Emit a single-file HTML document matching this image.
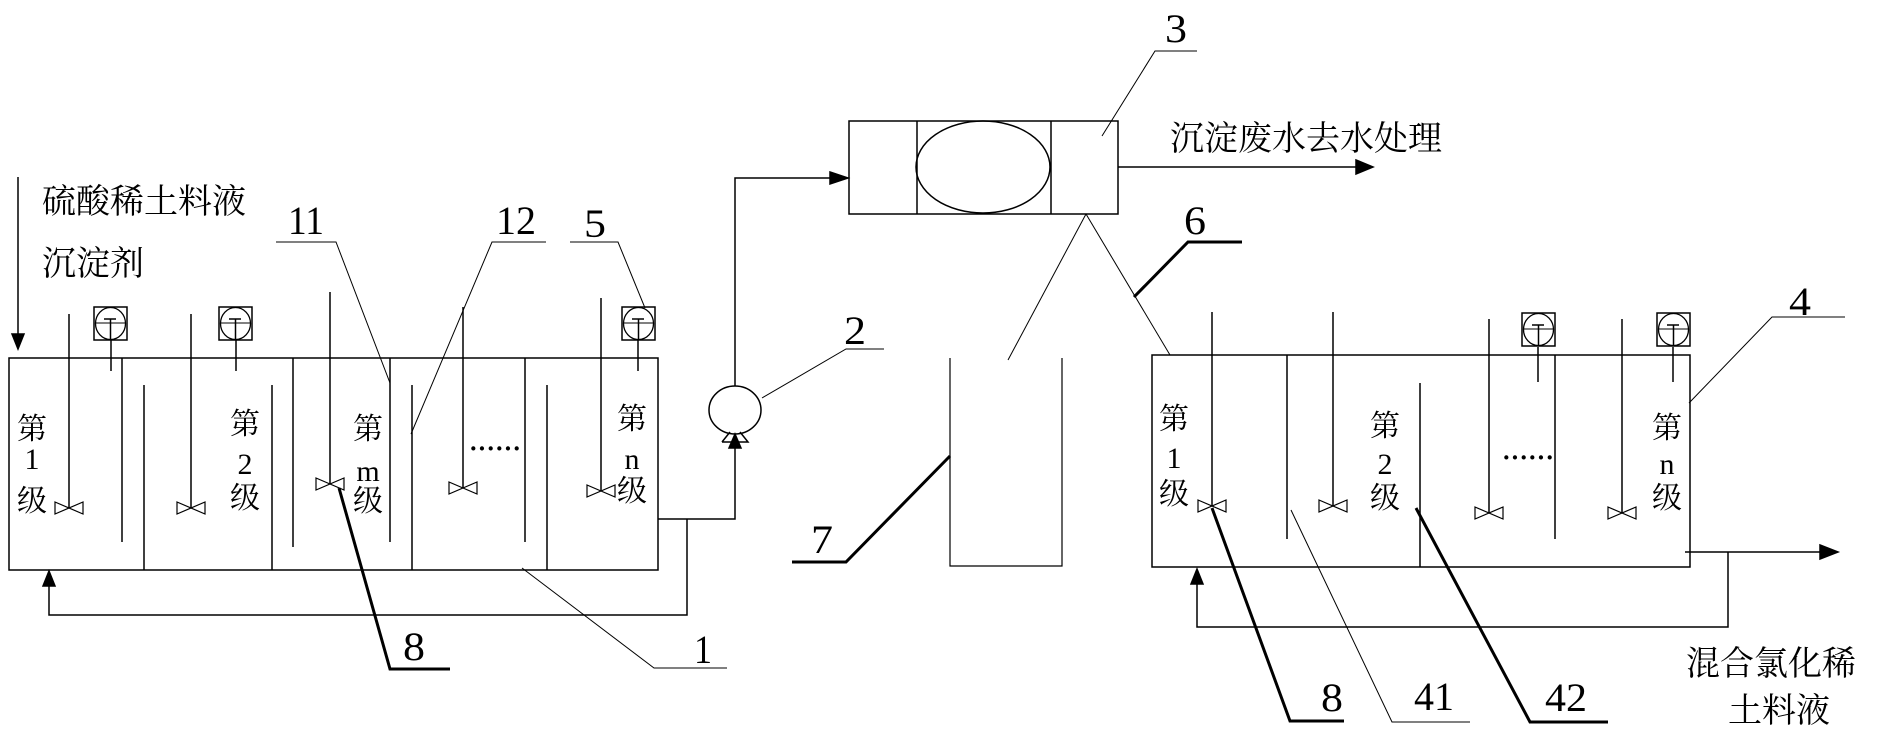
<!DOCTYPE html>
<html><head><meta charset="utf-8"><style>
html,body{margin:0;padding:0;background:#fff;}
svg{display:block}
text{font-family:"Liberation Serif","Noto Serif CJK SC",serif;fill:#000}
</style></head><body>
<svg width="1882" height="734" viewBox="0 0 1882 734" xmlns="http://www.w3.org/2000/svg">
<defs>
<g id="imp"><path d="M-14,-6 L14,6 L14,-6 L-14,6 Z" fill="none" stroke="#000" stroke-width="1.2"/></g>
<g id="mot"><rect x="0" y="0" width="33" height="33" fill="none" stroke="#000" stroke-width="1.5"/><ellipse cx="16.5" cy="16.5" rx="15" ry="16" fill="none" stroke="#000" stroke-width="1.3"/><line x1="2" y1="16" x2="31" y2="16" stroke="#000" stroke-width="1"/><line x1="10" y1="12" x2="22" y2="12" stroke="#000" stroke-width="1.5"/><line x1="16.5" y1="12" x2="16.5" y2="33" stroke="#000" stroke-width="1.5"/></g>
</defs>
<g stroke="#000" fill="none" stroke-width="1.5">
<rect x="9" y="358" width="649" height="212"/>
<line x1="18" y1="177" x2="18" y2="336"/>
<path d="M12,334 L24,334 L18,349 Z" fill="#000"/>
<line x1="69" y1="314" x2="69" y2="508"/>
<line x1="191" y1="314" x2="191" y2="508"/>
<line x1="330" y1="292" x2="330" y2="484"/>
<line x1="463" y1="307" x2="463" y2="488"/>
<line x1="601" y1="298" x2="601" y2="491"/>
<line x1="111" y1="339" x2="111" y2="371"/>
<line x1="236" y1="339" x2="236" y2="371"/>
<line x1="638" y1="339" x2="638" y2="371"/>
<line x1="122" y1="358" x2="122" y2="542"/>
<line x1="293" y1="358" x2="293" y2="547"/>
<line x1="390" y1="358" x2="390" y2="542"/>
<line x1="525" y1="358" x2="525" y2="542"/>
<line x1="144" y1="385" x2="144" y2="570"/>
<line x1="272" y1="385" x2="272" y2="570"/>
<line x1="412" y1="385" x2="412" y2="570"/>
<line x1="547" y1="385" x2="547" y2="570"/>
<polyline points="658,519 735,519 735,446"/>
<path d="M729,448 L741,448 L735,434 Z" fill="#000"/>
<polyline points="687,519 687,615 49,615 49,584"/>
<path d="M43,586 L55,586 L49,571 Z" fill="#000"/>
<ellipse cx="735" cy="410" rx="26" ry="24"/>
<path d="M722,442 L748,442 L740,432 M722,442 L730,432"/>
<polyline points="735,386 735,178 832,178"/>
<path d="M830,172 L848,178 L830,184 Z" fill="#000"/>
<rect x="849" y="121" width="269" height="93"/>
<line x1="917" y1="121" x2="917" y2="214"/>
<line x1="1051" y1="121" x2="1051" y2="214"/>
<ellipse cx="983" cy="167" rx="67" ry="46"/>
<line x1="1118" y1="167" x2="1358" y2="167"/>
<path d="M1356,160 L1373,167 L1356,174 Z" fill="#000"/>
<line x1="1086" y1="214" x2="1008" y2="360" stroke-width="1"/>
<line x1="1086" y1="214" x2="1170" y2="355" stroke-width="1"/>
<polyline points="950,358 950,566 1062,566 1062,358" stroke-width="1.2"/>
<rect x="1152" y="355" width="538" height="212"/>
<line x1="1212" y1="312" x2="1212" y2="506"/>
<line x1="1333" y1="312" x2="1333" y2="506"/>
<line x1="1489" y1="319" x2="1489" y2="513"/>
<line x1="1622" y1="319" x2="1622" y2="513"/>
<line x1="1538" y1="347" x2="1538" y2="382"/>
<line x1="1673" y1="347" x2="1673" y2="382"/>
<line x1="1287" y1="355" x2="1287" y2="539"/>
<line x1="1555" y1="355" x2="1555" y2="539"/>
<line x1="1420" y1="383" x2="1420" y2="567"/>
<line x1="1685" y1="552" x2="1822" y2="552"/>
<path d="M1820,545 L1838,552 L1820,559 Z" fill="#000"/>
<polyline points="1728,552 1728,627 1197,627 1197,582"/>
<path d="M1191,584 L1203,584 L1197,569 Z" fill="#000"/>
</g>
<use href="#imp" x="69" y="508"/><use href="#imp" x="191" y="508"/><use href="#imp" x="330" y="484"/><use href="#imp" x="463" y="488"/><use href="#imp" x="601" y="491"/>
<use href="#imp" x="1212" y="506"/><use href="#imp" x="1333" y="506"/><use href="#imp" x="1489" y="513"/><use href="#imp" x="1622" y="513"/>
<use href="#mot" x="94" y="307"/><use href="#mot" x="219" y="307"/><use href="#mot" x="622" y="307"/>
<use href="#mot" x="1522" y="313"/><use href="#mot" x="1657" y="313"/>
<g stroke="#000" fill="none" stroke-width="1">
<polyline points="522,568 654,668 727,668"/>
<polyline points="1102,136 1155,51 1197,51"/>
<polyline points="762,398 846,349 884,349"/>
<polyline points="390,383 336,242 276,242"/>
<polyline points="411,434 492,242 546,242"/>
<polyline points="645,308 618,242 570,242"/>
<polyline points="1689,403 1772,317 1845,317"/>
<polyline points="1291,510 1392,722 1470,722"/>
</g>
<g stroke="#000" fill="none" stroke-width="3">
<polyline points="339,488 390,669 450,669"/>
<polyline points="1134,297 1188,242 1242,242"/>
<polyline points="950,456 846,562 792,562"/>
<polyline points="1212,508 1290,721 1344,721"/>
<polyline points="1416,508 1530,722 1608,722"/>
</g>
<g font-size="40" text-anchor="middle" font-stretch="condensed">
<text x="1176" y="42" textLength="22" lengthAdjust="spacingAndGlyphs">3</text>
<text x="855" y="344" textLength="22" lengthAdjust="spacingAndGlyphs">2</text>
<text x="703" y="663" textLength="18" lengthAdjust="spacingAndGlyphs">1</text>
<text x="306" y="234" textLength="36" lengthAdjust="spacingAndGlyphs">11</text>
<text x="516" y="234" textLength="40" lengthAdjust="spacingAndGlyphs">12</text>
<text x="595" y="237" textLength="22" lengthAdjust="spacingAndGlyphs">5</text>
<text x="1195" y="234" textLength="22" lengthAdjust="spacingAndGlyphs">6</text>
<text x="822" y="553" textLength="22" lengthAdjust="spacingAndGlyphs">7</text>
<text x="414" y="660" textLength="22" lengthAdjust="spacingAndGlyphs">8</text>
<text x="1800" y="315" textLength="22" lengthAdjust="spacingAndGlyphs">4</text>
<text x="1332" y="711" textLength="22" lengthAdjust="spacingAndGlyphs">8</text>
<text x="1434" y="710" textLength="40" lengthAdjust="spacingAndGlyphs">41</text>
<text x="1566" y="711" textLength="42" lengthAdjust="spacingAndGlyphs">42</text>
</g>
<g font-size="34">
<text x="42" y="213">硫酸稀土料液</text>
<text x="42" y="275">沉淀剂</text>
<text x="1170" y="150">沉淀废水去水处理</text>
<text x="1686" y="675">混合氯化稀</text>
<text x="1728" y="722">土料液</text>
</g>
<g font-size="30" text-anchor="middle">
<text x="32" y="439">第</text><text x="32" y="469">1</text><text x="32" y="511">级</text>
<text x="245" y="434">第</text><text x="245" y="474">2</text><text x="245" y="508">级</text>
<text x="368" y="439">第</text><text x="368" y="481">m</text><text x="368" y="511">级</text>
<text x="632" y="429">第</text><text x="632" y="469">n</text><text x="632" y="501">级</text>
<text x="1174" y="429">第</text><text x="1174" y="468">1</text><text x="1174" y="504">级</text>
<text x="1385" y="436">第</text><text x="1385" y="474">2</text><text x="1385" y="508">级</text>
<text x="1667" y="438">第</text><text x="1667" y="474">n</text><text x="1667" y="508">级</text>
</g>
<g font-size="26" font-weight="bold">
<text x="469" y="457">······</text>
<text x="1502" y="466">······</text>
</g>
</svg>
</body></html>
